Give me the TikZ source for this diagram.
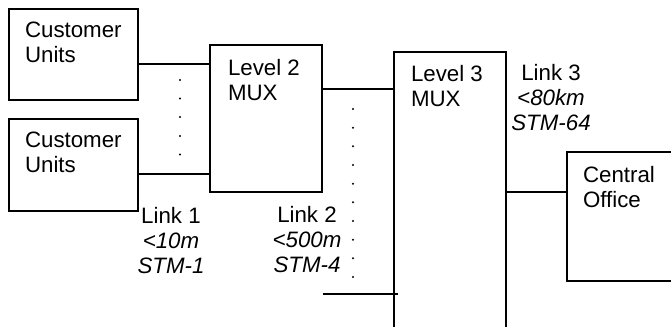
\documentclass[tikz,border=0pt]{standalone}
\usepackage{fontspec}
\setmainfont{Liberation Sans}
\begin{document}
\begin{tikzpicture}[x=1bp,y=-1bp,
  box/.style={draw=black,line width=1.1bp,inner sep=0,outer sep=0,anchor=north west},
  txt/.style={inner sep=0,outer sep=0,font=\fontsize{22.3bp}{25bp}\selectfont},
  boxtxt/.style={txt,align=left,anchor=north west},
  linktxt/.style={txt,align=center,anchor=north},
  conn/.style={draw=black,line width=1.1bp},
  dotmark/.style={fill=black}]
\useasboundingbox (0,0) rectangle (671,326);
\clip (0,0) rectangle (671,326);
% boxes
\node[box,minimum width=129bp,minimum height=91bp] (cu1) at (9,9) {};
\node[box,minimum width=129bp,minimum height=92bp] (cu2) at (9,119) {};
\node[box,minimum width=112bp,minimum height=147bp] (l2) at (210,45) {};
\node[box,minimum width=112bp,minimum height=300bp] (l3) at (394,52) {};
\node[box,minimum width=130bp,minimum height=129bp] (co) at (567,152) {};
% box texts
\node[boxtxt] (cu1t) at (25,21.8) {Customer\\Units};
\node[boxtxt] (cu2t) at (25,132) {Customer\\Units};
\node[boxtxt] (l2t) at (228,59.5) {Level 2\\MUX};
\node[boxtxt] (l3t) at (411,65) {Level 3\\MUX};
\node[boxtxt] (cot) at (583,166) {Central\\Office};
% link labels
\node[linktxt] (lk1) at (171,207) {Link 1\\\textit{<10m}\\\textit{STM-1}};
\node[linktxt] (lk2) at (307,206) {Link 2\\\textit{<500m}\\\textit{STM-4}};
\node[linktxt] (lk3) at (551,64) {Link 3\\\textit{<80km}\\\textit{STM-64}};
% connectors
\draw[conn] (cu1.east |- 0,64) -- (l2.west |- 0,64);
\draw[conn] (cu2.east |- 0,174) -- (l2.west |- 0,174);
\draw[conn] (l2.east |- 0,89) -- (l3.west |- 0,89);
\coordinate (free) at (323,294);
\draw[conn] (free) -- ([xshift=4bp]l3.west |- free);
\draw[conn] (l3.east |- 0,192) -- (co.west |- 0,192);
% dots
\foreach \y in {80,98.5,117,136,154.5}
  \fill[dotmark] (180,\y) circle (1.1bp);
\foreach \y in {109,127.7,146.3,165,183.7,202.3,221,239.7,258.3,277}
  \fill[dotmark] (353,\y) circle (1.1bp);
\end{tikzpicture}
\end{document}
